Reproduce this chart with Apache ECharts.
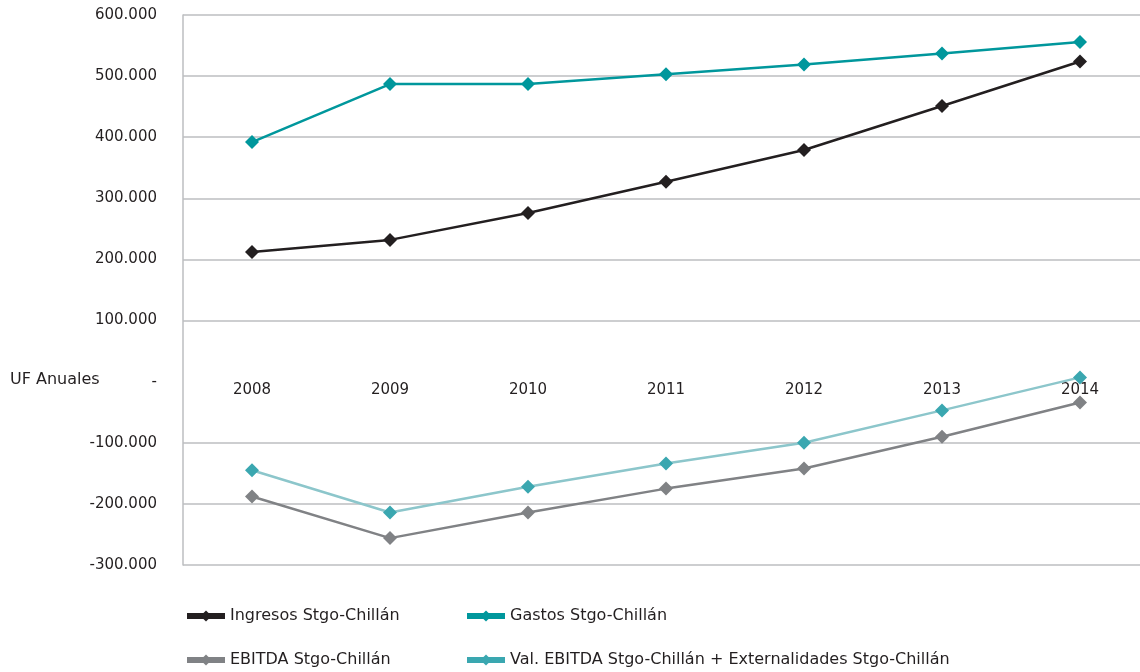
<!DOCTYPE html>
<html>
<head>
<meta charset="utf-8">
<script src="https://cdn.jsdelivr.net/npm/echarts@6/dist/echarts.min.js"></script>
<style>
  html, body { margin: 0; padding: 0; background: #fff; }
  #chart { width: 1140px; height: 672px; }
</style>
</head>
<body>
<div id="chart"></div>
<script>
const years = ["2008", "2009", "2010", "2011", "2012", "2013", "2014"];

const ingresos = [212000, 232000, 276000, 327000, 379000, 451000, 524000];
const gastos = [392000, 487000, 487000, 503000, 519000, 537000, 556000];
const ebitda = [-188000, -256000, -214000, -175000, -142000, -90000, -34000];
const ebitdaExt = [-145000, -214000, -172000, -134000, -100000, -47000, 7000];

const chart = echarts.init(document.getElementById("chart"));

const font = "'DejaVu Sans', sans-serif";
const gridColor = "#bcbec0";

function fmt(v) {
  if (v === 0) return "-";
  const s = Math.abs(v).toString().replace(/\B(?=(\d{3})+(?!\d))/g, ".");
  return (v < 0 ? "-" : "") + s;
}

function lineSeries(name, data, lineColor, markColor) {
  return {
    name,
    type: "line",
    data,
    symbol: "diamond",
    symbolSize: 14,
    lineStyle: { width: 2.5, color: lineColor },
    itemStyle: { color: markColor },
    z: 3,
  };
}

// split line colours, one per tick from -300.000 up; zero has none
const splitColors = [gridColor, gridColor, gridColor, "rgba(0,0,0,0)", gridColor, gridColor, gridColor, gridColor, gridColor, gridColor];

const legendBase = {
  orient: "vertical",
  top: 608,
  height: 64,
  padding: 0,
  itemWidth: 38,
  itemHeight: 14,
  itemGap: 28,
  textStyle: { color: "#231f20", fontSize: 16, fontFamily: font },
  lineStyle: { width: 6 },
};

const option = {
  animation: false,
  textStyle: { fontFamily: font },
  grid: { left: 183, width: 966, top: 15, height: 550, outerBoundsMode: "none" },
  legend: [
    Object.assign({}, legendBase, {
      left: 184,
      data: ["Ingresos Stgo-Chillán", "EBITDA Stgo-Chillán"],
    }),
    Object.assign({}, legendBase, {
      left: 464,
      data: [
        "Gastos Stgo-Chillán",
        { name: "Val. EBITDA Stgo-Chillán + Externalidades Stgo-Chillán", lineStyle: { color: "#3aa7b0" } },
      ],
    }),
  ],
  graphic: [
    {
      type: "text",
      left: 10,
      top: 372,
      style: { text: "UF Anuales", fill: "#231f20", font: "16px " + font },
    },
  ],
  xAxis: {
    type: "category",
    data: years,
    boundaryGap: true,
    position: "bottom",
    offset: -183.3, // sits on the zero line
    axisLine: { show: false, onZero: false },
    axisTick: { show: false },
    axisLabel: { color: "#231f20", fontSize: 15, fontFamily: font, margin: 1 },
  },
  yAxis: {
    type: "value",
    min: -300000,
    max: 600000,
    interval: 100000,
    axisLine: { show: true, lineStyle: { color: gridColor, width: 1.5 } },
    axisTick: { show: false },
    axisLabel: { color: "#231f20", fontSize: 15, fontFamily: font, margin: 26, formatter: fmt },
    splitLine: { show: true, lineStyle: { color: splitColors, width: 1.5 } },
  },
  series: [
    lineSeries("Ingresos Stgo-Chillán", ingresos, "#231f20", "#231f20"),
    lineSeries("Gastos Stgo-Chillán", gastos, "#00979c", "#00979c"),
    lineSeries("EBITDA Stgo-Chillán", ebitda, "#808285", "#808285"),
    lineSeries("Val. EBITDA Stgo-Chillán + Externalidades Stgo-Chillán", ebitdaExt, "#8cc6cb", "#3aa7b0"),
  ],
};

chart.setOption(option);
</script>
</body>
</html>
